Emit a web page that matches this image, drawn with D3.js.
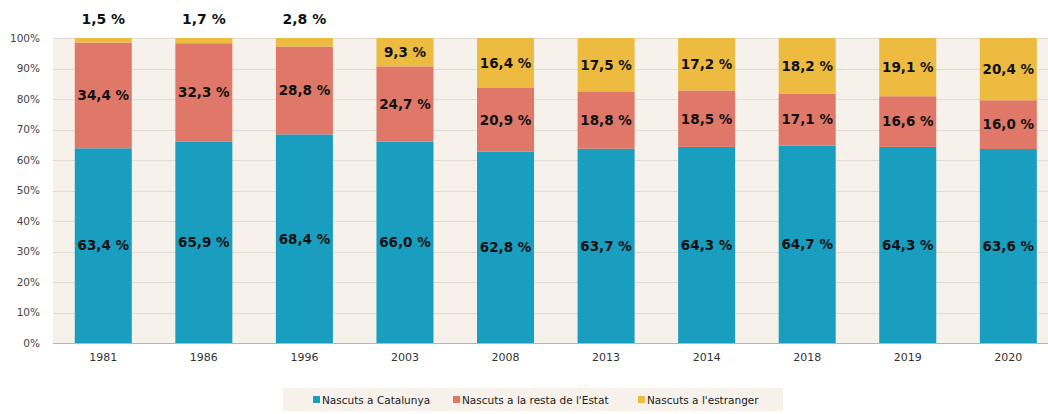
<!DOCTYPE html>
<html>
<head>
<meta charset="utf-8">
<script src="https://cdn.jsdelivr.net/npm/d3@7"></script>
<style>
  body { margin: 0; background: #fff; }
  svg { display: block; }
</style>
</head>
<body>
<div id="chart"></div>
<script>
// data
var years = ["1981", "1986", "1996", "2003", "2008", "2013", "2014", "2018", "2019", "2020"];
var catalunya = [63.4, 65.9, 68.4, 66.0, 62.8, 63.7, 64.3, 64.7, 64.3, 63.6];
var restaEstat = [34.4, 32.3, 28.8, 24.7, 20.9, 18.8, 18.5, 17.1, 16.6, 16.0];
var estranger = [1.5, 1.7, 2.8, 9.3, 16.4, 17.5, 17.2, 18.2, 19.1, 20.4];
var seriesNames = ["Nascuts a Catalunya", "Nascuts a la resta de l'Estat", "Nascuts a l'estranger"];
var yTicks = [0, 10, 20, 30, 40, 50, 60, 70, 80, 90, 100];

var colors = ["#1a9ec0", "#e0786a", "#ecbb3f"];

var W = 1048, H = 414;
var margin = { top: 38, left: 53, bottom: 71 };
var plotH = H - margin.top - margin.bottom;

var svg = d3.select("#chart").append("svg")
  .attr("width", W)
  .attr("height", H);

var rows = years.map(function (y, i) {
  return { year: y, a: catalunya[i], b: restaEstat[i], c: estranger[i] };
});

// 100% stacked: normalise each year
var stack = d3.stack().keys(["a", "b", "c"]).offset(d3.stackOffsetExpand);
var series = stack(rows);

var x = d3.scaleBand()
  .domain(years)
  .range([margin.left, margin.left + 1005.6])
  .paddingInner(0.433)
  .paddingOuter(0.2165);

var y = d3.scaleLinear()
  .domain([0, 1])
  .range([margin.top + plotH, margin.top]);

// plot background
svg.append("rect")
  .attr("x", margin.left)
  .attr("y", margin.top)
  .attr("width", W - margin.left)
  .attr("height", plotH)
  .attr("fill", "#f6f1ea");

// gridlines
svg.append("g")
  .selectAll("line")
  .data(yTicks)
  .join("line")
  .attr("x1", margin.left)
  .attr("x2", W)
  .attr("y1", function (d) { return Math.round(y(d / 100)) + 0.5; })
  .attr("y2", function (d) { return Math.round(y(d / 100)) + 0.5; })
  .attr("stroke", "#e0dbd3")
  .attr("stroke-width", 1);

// bars
var groups = svg.append("g")
  .selectAll("g")
  .data(series)
  .join("g")
  .attr("fill", function (d, i) { return colors[i]; });

groups.selectAll("rect")
  .data(function (d) { return d; })
  .join("rect")
  .attr("x", function (d) { return x(d.data.year); })
  .attr("width", x.bandwidth())
  .attr("y", function (d) { return y(d[1]); })
  .attr("height", function (d) { return y(d[0]) - y(d[1]); });

// bottom axis line
svg.append("line")
  .attr("x1", margin.left)
  .attr("x2", W)
  .attr("y1", margin.top + plotH + 0.5)
  .attr("y2", margin.top + plotH + 0.5)
  .attr("stroke", "#b8b4ae");

// y axis labels
var yAxis = d3.axisLeft(y)
  .tickValues(yTicks.map(function (d) { return d / 100; }))
  .tickFormat(function (d) { return Math.round(d * 100) + "%"; })
  .tickSize(0)
  .tickPadding(13);
svg.append("g")
  .attr("transform", "translate(" + margin.left + ",0)")
  .call(yAxis)
  .call(function (g) { g.select(".domain").remove(); })
  .selectAll("text")
  .attr("font-family", "DejaVu Sans, sans-serif")
  .attr("font-size", 10.5)
  .attr("fill", "#444");

// x axis labels
var xAxis = d3.axisBottom(x).tickSize(0).tickPadding(10);
svg.append("g")
  .attr("transform", "translate(0," + (margin.top + plotH) + ")")
  .call(xAxis)
  .call(function (g) { g.select(".domain").remove(); })
  .selectAll("text")
  .attr("font-family", "DejaVu Sans, sans-serif")
  .attr("font-size", 11)
  .attr("fill", "#333");

// value labels
function fmt(v) { return v.toFixed(1).replace(".", ",") + " %"; }
var rawValues = [catalunya, restaEstat, estranger];

series.forEach(function (s, si) {
  s.forEach(function (d, i) {
    var v = rawValues[si][i];
    var cx = x(d.data.year) + x.bandwidth() / 2;
    var outside = si === 2 && v < 5;
    var cy = outside ? 19 : (y(d[0]) + y(d[1])) / 2;
    svg.append("text")
      .attr("x", cx)
      .attr("y", cy)
      .attr("dy", "0.36em")
      .attr("text-anchor", "middle")
      .attr("font-family", "DejaVu Sans, sans-serif")
      .attr("font-weight", "bold")
      .attr("font-size", outside ? 14 : 13.5)
      .attr("fill", "#111")
      .text(fmt(v));
  });
});

// legend
var legend = svg.append("g");
legend.append("rect")
  .attr("x", 283)
  .attr("y", 388)
  .attr("width", 500)
  .attr("height", 23)
  .attr("fill", "#f6f1ea");

var legendX = [313, 453, 638];
seriesNames.forEach(function (name, i) {
  legend.append("rect")
    .attr("x", legendX[i])
    .attr("y", 396)
    .attr("width", 7)
    .attr("height", 7)
    .attr("fill", colors[i]);
  legend.append("text")
    .attr("x", legendX[i] + 9)
    .attr("y", 400)
    .attr("dy", "0.35em")
    .attr("font-family", "DejaVu Sans, sans-serif")
    .attr("font-size", 10.5)
    .attr("fill", "#222")
    .text(name);
});
</script>
</body>
</html>
